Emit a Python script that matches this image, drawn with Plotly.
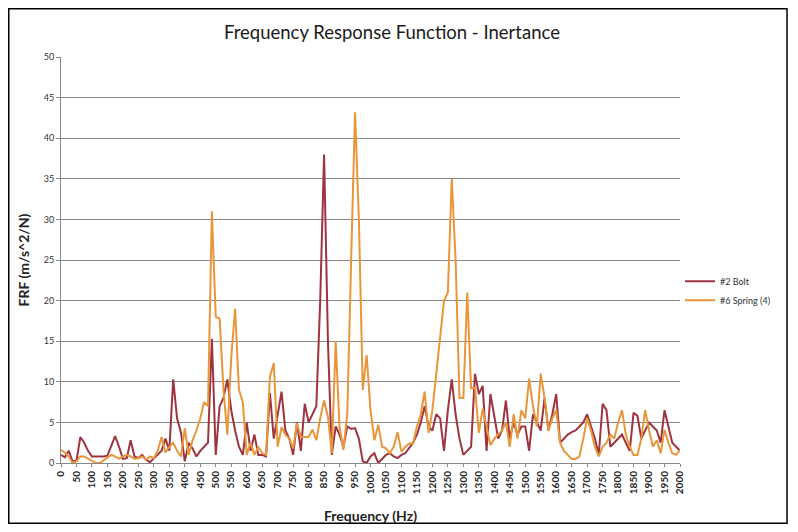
import plotly.graph_objects as go

# Frequency axis: 12.5 Hz steps from 0 to 2000 Hz
freq_step = 12.5
n_points = 161
freqs = [i * freq_step for i in range(n_points)]

# FRF inertance, #2 Bolt (m/s^2/N), four values per 50 Hz
bolt = [
    1.0, 0.7, 1.5, 0.2,
    0.3, 3.2, 2.5, 1.5,
    0.8, 0.8, 0.8, 0.8,
    0.9, 2.2, 3.3, 2.0,
    0.5, 0.6, 2.8, 0.8,
    0.6, 1.0, 0.4, 0.1,
    0.6, 1.0, 1.5, 3.0,
    1.5, 10.3, 5.5, 3.8,
    0.2, 2.5, 1.8, 0.8,
    1.5, 2.0, 2.5, 15.3,
    1.0, 7.0, 8.0, 10.3,
    6.5, 4.0, 2.0, 1.0,
    5.0, 1.5, 3.5, 1.0,
    1.0, 0.8, 8.6, 3.0,
    6.0, 8.8, 4.0, 3.0,
    1.0, 5.0, 1.5, 7.3,
    5.0, 6.0, 7.0, 20.0,
    38.0, 15.0, 1.0, 4.5,
    3.5, 2.0, 4.5, 4.2,
    4.3, 3.0, 0.2, 0.0,
    0.8, 1.2, 0.0, 0.5,
    1.0, 1.2, 0.8, 0.6,
    1.0, 1.2, 1.8, 2.5,
    3.5, 5.0, 7.0, 4.5,
    4.0, 6.0, 5.5, 1.5,
    6.5, 10.3, 6.0, 3.0,
    1.0, 1.5, 2.0, 11.0,
    8.5, 9.5, 1.5, 8.5,
    5.5, 3.0, 4.0, 7.7,
    3.0, 5.0, 3.5, 4.5,
    4.5, 1.5, 6.0, 5.0,
    4.0, 8.0, 4.0, 6.0,
    8.5, 2.5, 3.0, 3.5,
    3.8, 4.0, 4.5, 5.0,
    6.0, 4.5, 3.0, 1.0,
    7.3, 6.5, 2.0, 2.5,
    3.0, 3.5, 2.5, 1.5,
    6.2, 5.8, 3.0, 4.0,
    5.0, 4.5, 4.0, 2.5,
    6.5, 4.5, 2.5, 2.0,
    1.5,
]

# FRF inertance, #6 Spring (4)
spring = [
    1.6, 1.3, 0.8, 0.0,
    0.2, 0.8, 0.8, 0.5,
    0.2, 0.0, 0.0, 0.3,
    0.6, 1.0, 0.8, 0.5,
    0.8, 1.0, 0.8, 0.5,
    0.6, 0.8, 0.4, 0.8,
    0.6, 1.5, 3.2, 1.3,
    2.0, 2.5, 1.5, 0.8,
    4.3, 1.0, 2.8, 4.0,
    5.5, 7.5, 7.0, 31.0,
    18.0, 17.8, 9.0, 3.5,
    13.0, 19.0, 9.0, 7.5,
    1.0, 2.5, 1.0, 2.0,
    1.2, 1.0, 10.6, 12.3,
    2.0, 4.4, 3.5, 3.0,
    1.8, 4.9, 3.2, 3.2,
    3.2, 4.1, 2.8, 5.5,
    7.7, 5.7, 1.2, 15.0,
    4.4, 1.6, 6.1, 25.0,
    43.2, 30.0, 9.0, 13.3,
    6.5, 2.8, 4.7, 2.0,
    1.8, 1.2, 2.0, 3.8,
    1.4, 2.0, 2.4, 2.4,
    4.5, 6.0, 8.8, 3.7,
    6.5, 11.0, 15.4, 20.0,
    21.0, 35.0, 25.0, 8.0,
    8.0, 21.0, 9.2, 9.3,
    3.7, 6.7, 4.5, 2.2,
    3.0, 3.5, 4.0, 5.0,
    2.0, 6.0, 3.0, 6.5,
    5.5, 10.4, 7.0, 4.5,
    11.0, 8.0, 4.0, 5.5,
    6.5, 2.5, 1.5, 1.0,
    0.5, 0.5, 0.8, 3.0,
    5.5, 4.0, 2.0, 0.8,
    2.0, 2.5, 3.5, 3.0,
    5.0, 6.5, 3.5, 2.0,
    1.0, 1.0, 3.0, 6.5,
    4.0, 2.0, 2.8, 1.2,
    4.1, 2.5, 1.2, 1.0,
    1.6,
]

series_names = ["#2 Bolt", "#6 Spring (4)"]
series_colors = ["#9E3440", "#E8963A"]

x_ticks = list(range(0, 2001, 50))
y_ticks = list(range(0, 51, 5))

FONT = "Lato, 'Open Sans', sans-serif"

fig = go.Figure()
for name, vals, color in zip(series_names, [bolt, spring], series_colors):
    fig.add_trace(
        go.Scatter(
            x=freqs,
            y=vals,
            mode="lines",
            name=name,
            line=dict(color=color, width=2),
        )
    )

# outer chart frame
fig.add_shape(
    type="rect", xref="paper", yref="paper",
    x0=-0.0844, x1=1.1729, y0=-0.1484, y1=1.1189,
    line=dict(color="black", width=1.5),
)

# page body has an 8px margin, so keep the figure inside the window;
# fixed margins so the legend / axis titles don't shrink the plot area
fig.update_layout(
    width=782,
    height=516,
    paper_bgcolor="white",
    plot_bgcolor="white",
    font=dict(family=FONT, color="#222222"),
    margin=dict(l=53, r=110, t=49, b=61, autoexpand=False),
    title=dict(
        text="Frequency Response Function - Inertance",
        x=0.491, xanchor="center", y=0.953, yanchor="middle",
        font=dict(size=18.5, color="#1a1a1a"),
    ),
    showlegend=True,
    legend=dict(
        x=1.0, y=0.424, xanchor="left", yanchor="middle",
        font=dict(size=9, color="#333333"),
        bgcolor="rgba(0,0,0,0)",
        itemwidth=30,
    ),
    xaxis=dict(
        range=[0, 2000],
        tickvals=x_ticks,
        ticktext=[str(v) for v in x_ticks],
        tickangle=-90,
        tickfont=dict(size=10, weight="bold", color="#222222"),
        showgrid=False,
        showline=True,
        linecolor="#888888",
        ticks="outside",
        ticklen=3,
        tickcolor="#888888",
        zeroline=False,
        automargin=False,
        title=dict(text="Frequency (Hz)", font=dict(size=14, weight="bold"), standoff=17),
    ),
    yaxis=dict(
        range=[0, 50],
        tickvals=y_ticks,
        tickfont=dict(size=9, color="#333333"),
        showgrid=True,
        gridcolor="#8a8a8a",
        gridwidth=1,
        showline=True,
        linecolor="#888888",
        ticks="outside",
        ticklen=4,
        tickcolor="#888888",
        zeroline=False,
        automargin=False,
        title=dict(text="FRF (m/s^2/N)", font=dict(size=14, weight="bold"), standoff=10),
    ),
)

fig.write_html("out.html")
